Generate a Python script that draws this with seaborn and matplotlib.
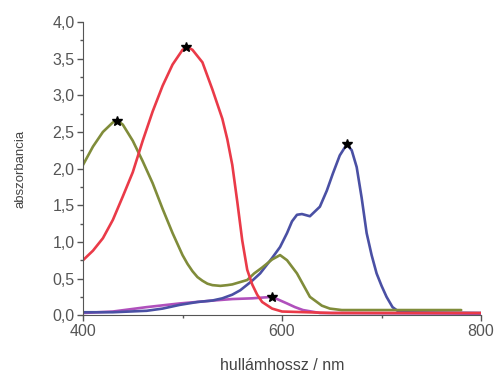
import numpy as np
import pandas as pd
import matplotlib.pyplot as plt
import seaborn as sns

# spectra (wavelength nm, absorbance)
red_x = [400, 410, 420, 430, 440, 450, 460, 470, 480, 490, 500, 505, 510, 520, 530, 540, 545,
         550, 555, 560, 565, 570, 575, 580, 590, 600, 650, 800]
red_y = [0.75, 0.88, 1.05, 1.30, 1.62, 1.95, 2.38, 2.78, 3.13, 3.42, 3.62, 3.66, 3.62, 3.45,
         3.08, 2.68, 2.40, 2.05, 1.55, 1.02, 0.62, 0.42, 0.28, 0.18, 0.09, 0.05, 0.03, 0.03]

olive_x = [400, 410, 420, 430, 435, 440, 450, 460, 470, 480, 490, 500, 505, 510, 515, 520, 525,
           530, 538, 545, 550, 565, 572, 580, 590, 598, 605, 615, 628, 640, 648, 660, 780]
olive_y = [2.05, 2.30, 2.50, 2.63, 2.65, 2.60, 2.38, 2.10, 1.80, 1.45, 1.12, 0.82, 0.70, 0.60,
           0.52, 0.47, 0.43, 0.41, 0.40, 0.41, 0.42, 0.48, 0.57, 0.65, 0.76, 0.82, 0.75, 0.57,
           0.25, 0.13, 0.09, 0.07, 0.07]

blue_x = [400, 430, 464, 480, 497, 515, 530, 540, 550, 558, 570, 578, 590, 598, 605, 610, 615,
          620, 628, 638, 645, 651, 658, 665, 670, 675, 680, 685, 690, 695, 700, 705, 711, 718, 800]
blue_y = [0.04, 0.04, 0.06, 0.09, 0.14, 0.18, 0.20, 0.23, 0.28, 0.34, 0.47, 0.57, 0.78, 0.93,
          1.12, 1.28, 1.37, 1.38, 1.35, 1.48, 1.70, 1.93, 2.18, 2.33, 2.25, 2.02, 1.60, 1.12,
          0.82, 0.57, 0.40, 0.25, 0.11, 0.04, 0.03]

purple_x = [400, 430, 464, 497, 531, 550, 570, 580, 590, 600, 605, 613, 621, 638, 800]
purple_y = [0.03, 0.05, 0.11, 0.16, 0.20, 0.22, 0.23, 0.24, 0.25, 0.19, 0.16, 0.11, 0.07, 0.03, 0.02]

# peak markers
peak_x = [434, 503, 665, 590]
peak_y = [2.65, 3.66, 2.33, 0.25]

series = {"purple": (purple_x, purple_y), "blue": (blue_x, blue_y),
          "olive": (olive_x, olive_y), "red": (red_x, red_y)}
colors = {"purple": "#b050bc", "blue": "#4a50a4", "olive": "#808c3a", "red": "#ea3a48"}

df = pd.concat([pd.DataFrame({"nm": x, "abs": y, "spec": k}) for k, (x, y) in series.items()],
               ignore_index=True)

sns.set_style("ticks")
plt.rcParams["font.family"] = ["Liberation Sans", "DejaVu Sans"]
plt.rcParams["text.color"] = "#444444"
plt.rcParams["axes.labelcolor"] = "#444444"

fig = plt.figure(figsize=(4.97, 3.73), dpi=100)
ax = fig.add_axes([0.167, 0.155, 0.801, 0.786])

sns.lineplot(data=df, x="nm", y="abs", hue="spec", palette=colors, sort=False,
             estimator=None, linewidth=1.9, legend=False, ax=ax)
ax.plot(peak_x, peak_y, linestyle="none", marker="*", color="black", markersize=7, zorder=5)

ax.set_xlim(400, 800)
ax.set_ylim(0, 4.0)
ax.set_xticks([400, 600, 800])
ax.set_xticks([500, 700], minor=True)
ax.set_yticks(np.arange(0, 4.01, 0.5))
ax.set_yticks(np.arange(0.25, 4.0, 0.5), minor=True)
ax.set_yticklabels([f"{v:.1f}".replace(".", ",") for v in np.arange(0, 4.01, 0.5)])
ax.tick_params(axis="both", which="major", labelsize=11.5, length=4, width=1,
               colors="#555555", pad=2)
ax.tick_params(axis="both", which="minor", length=2.5, width=1, colors="#555555")
for s in ["left", "bottom"]:
    ax.spines[s].set_color("#555555")
sns.despine(ax=ax)

ax.set_xlabel("hullámhossz / nm", fontsize=11.5, labelpad=14)
ax.set_ylabel("abszorbancia", fontsize=9.5, labelpad=19)

fig.savefig("out.png", dpi=100)
